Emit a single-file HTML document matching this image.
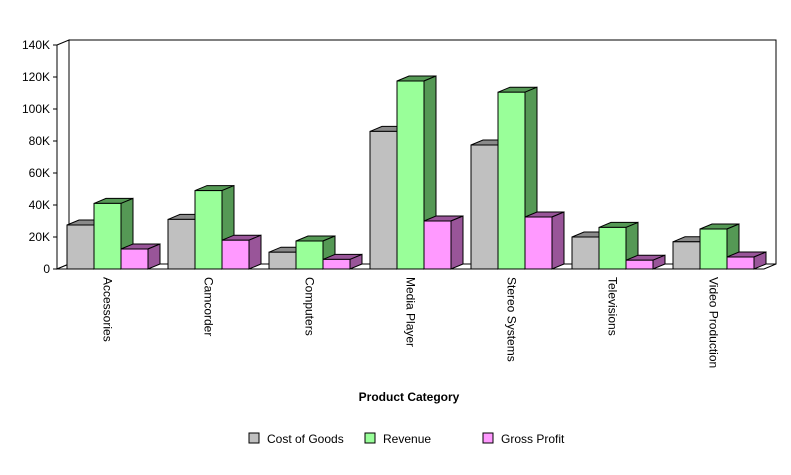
<!DOCTYPE html>
<html><head><meta charset="utf-8">
<style>
body{margin:0;background:#fff;width:791px;height:470px;overflow:hidden}
svg{font-family:"Liberation Sans",Arial,sans-serif}
</style></head>
<body>
<svg id="chart" width="791" height="470" viewBox="0 0 791 470" xmlns="http://www.w3.org/2000/svg"></svg>
<script>
const categories=["Accessories","Camcorder","Computers","Media Player","Stereo Systems","Televisions","Video Production"];
const costOfGoods=[27500,31000,10500,86000,77500,20000,17000];
const revenue=[41000,49000,17500,117500,110500,26000,25000];
const grossProfit=[12500,18000,6000,30000,32500,5500,7500];
const tickValues=[0,20000,40000,60000,80000,100000,120000,140000];
const tickLabels=["0","20K","40K","60K","80K","100K","120K","140K"];
const seriesNames=["Cost of Goods","Revenue","Gross Profit"];

const NS="http://www.w3.org/2000/svg";
const svg=document.getElementById('chart');
const X0=57,X1=764,Y0=269,YT=45,DX=12,DY=-5,MAX=140000;
const catW=(X1-X0)/categories.length, barW=27, gOff=10;
const y=v=>Y0-(v/MAX)*(Y0-YT);
function mk(tag,attrs,parent){const e=document.createElementNS(NS,tag);for(const k in attrs)e.setAttribute(k,attrs[k]);(parent||svg).appendChild(e);return e;}

// back wall & floor
const wall=mk('polygon',{points:`${X0+DX},${YT+DY} ${X1+DX},${YT+DY} ${X1+DX},${Y0+DY} ${X0+DX},${Y0+DY}`,fill:'#fff',stroke:'#000','stroke-width':1});


const side=mk('polygon',{points:`${X0},${YT} ${X0+DX},${YT+DY} ${X0+DX},${Y0+DY} ${X0},${Y0}`,fill:'#fff',stroke:'#000','stroke-width':1});


const floor=mk('polygon',{points:`${X0},${Y0} ${X0+DX},${Y0+DY} ${X1+DX},${Y0+DY} ${X1},${Y0}`,fill:'#fff',stroke:'#000','stroke-width':1});



// y ticks
tickValues.forEach((v,i)=>{
  const t=mk('line',{x1:X0-4,x2:X0,y1:y(v),y2:y(v),stroke:'#000'});
  
  
  const tx=mk('text',{x:X0-7,y:y(v)+4,'text-anchor':'end','font-size':12,fill:'#000'});
  tx.textContent=tickLabels[i];
  
  
});

const colors=[["#c0c0c0","#a0a0a0","#8a8a8a"],["#99ff99","#66cc66","#559955"],["#ff99ff","#dd77dd","#995599"]];
const series=[costOfGoods,revenue,grossProfit];
categories.forEach((c,ci)=>{
  const gx=X0+ci*catW+gOff;
  series.forEach((s,si)=>{
    const x=gx+si*barW, top=y(s[ci]);
    const g=mk('g',{});
    
    
    mk('polygon',{points:`${x},${top} ${x+DX},${top+DY} ${x+barW+DX},${top+DY} ${x+barW},${top}`,fill:colors[si][2],stroke:'#000','stroke-width':1},g);
    mk('polygon',{points:`${x+barW},${top} ${x+barW+DX},${top+DY} ${x+barW+DX},${Y0+DY} ${x+barW},${Y0}`,fill:colors[si][2],stroke:'#000','stroke-width':1},g);
    mk('rect',{x:x,y:top,width:barW,height:Y0-top,fill:colors[si][0],stroke:'#000','stroke-width':1},g);
  });
  const cx=gx+barW*1.5;
  const lt=mk('text',{x:0,y:0,'font-size':12,fill:'#000',transform:`translate(${cx-4},${Y0+8}) rotate(90)`});
  lt.textContent=c;
  
  
});
// front axis lines
mk('line',{x1:X0,y1:YT,x2:X0,y2:Y0,stroke:'#000'});
mk('line',{x1:X0,y1:Y0,x2:X1,y2:Y0,stroke:'#000'});

const title=mk('text',{x:409,y:401,'text-anchor':'middle','font-size':12,'font-weight':'bold',fill:'#000'});
title.textContent='Product Category';



const legX=[249,365,483];
seriesNames.forEach((n,i)=>{
  const g=mk('g',{});
  
  
  mk('rect',{x:legX[i],y:433,width:10,height:10,fill:colors[i][0],stroke:'#000'},g);
  const t=mk('text',{x:legX[i]+18,y:443,'font-size':12,fill:'#000'},g);
  t.textContent=n;
});
</script>
</body></html>
